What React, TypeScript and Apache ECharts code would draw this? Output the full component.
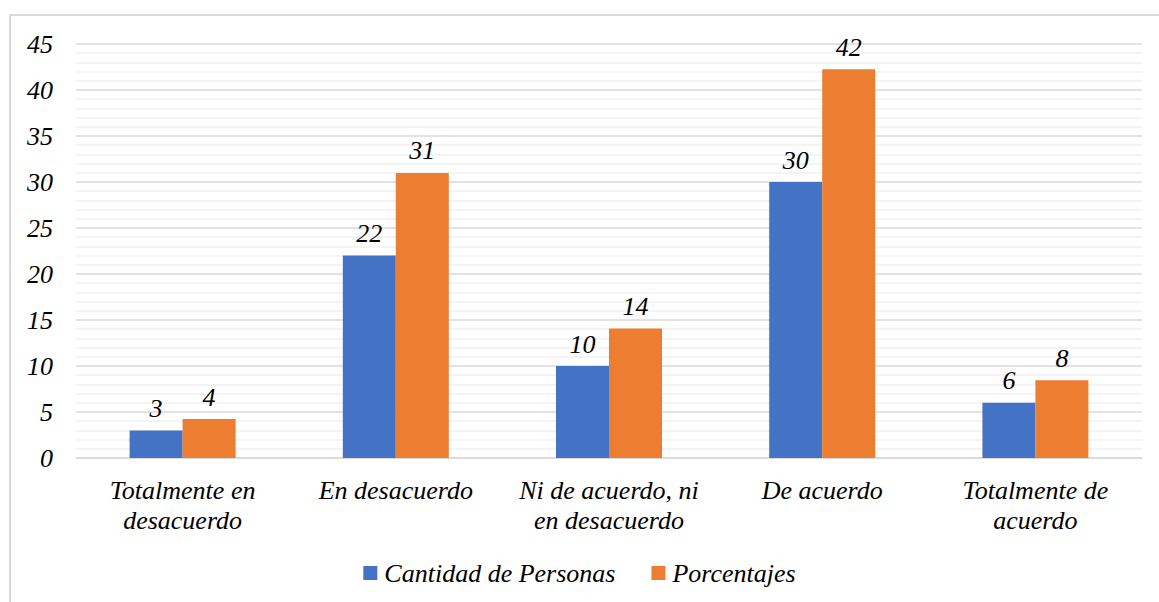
import React, { useEffect, useRef } from "react";
import * as echarts from "echarts";

const categories = [
  "Totalmente en\ndesacuerdo",
  "En desacuerdo",
  "Ni de acuerdo, ni\nen desacuerdo",
  "De acuerdo",
  "Totalmente de\nacuerdo",
];
const cantidad = [3, 22, 10, 30, 6];
const porcentajes = [4.23, 30.99, 14.08, 42.25, 8.45];
const seriesNames = ["Cantidad de Personas", "Porcentajes"];

const FONT = "Liberation Serif";

const css = `
.chart-box svg text, .chart-box svg tspan {
  font-family: "Liberation Serif", "Times New Roman", serif !important;
  font-style: italic !important;
}
`;

export default function App() {
  const ref = useRef<HTMLDivElement>(null);
  useEffect(() => {
    if (!ref.current) return;
    const chart = echarts.init(ref.current, undefined, { renderer: "svg" });
    const label = {
      show: true,
      position: "top",
      distance: 9,
      fontFamily: FONT,
      fontStyle: "italic",
      fontSize: 26,
      color: "#000",
      formatter: (p: any) => String(Math.round(p.value)),
    };
    chart.setOption({
      animation: false,
      textStyle: { fontFamily: FONT, fontStyle: "italic" },
      grid: { left: 76, right: 17, top: 44, bottom: 144 },
      legend: {
        bottom: 11,
        left: "center",
        itemWidth: 14,
        itemHeight: 14,
        itemGap: 36,
        icon: "rect",
        textStyle: {
          fontFamily: FONT,
          fontStyle: "italic",
          fontSize: 26,
          color: "#000",
          padding: [0, 0, 0, 2],
        },
        data: seriesNames,
      },
      xAxis: {
        type: "category",
        data: categories,
        axisLine: { lineStyle: { color: "#d9d9d9", width: 1.5 } },
        axisTick: { show: false },
        axisLabel: {
          fontFamily: FONT,
          fontStyle: "italic",
          fontSize: 26,
          color: "#000",
          lineHeight: 30,
          margin: 17,
          interval: 0,
        },
      },
      yAxis: {
        type: "value",
        min: 0,
        max: 45,
        interval: 5,
        axisLabel: {
          fontFamily: FONT,
          fontStyle: "italic",
          fontSize: 26,
          color: "#000",
          margin: 23,
        },
        splitLine: { lineStyle: { color: "#d9d9d9", width: 1.5 } },
        minorTick: { splitNumber: 5 },
        minorSplitLine: { show: true, lineStyle: { color: "#f0f0f0", width: 1.5 } },
      },
      series: [
        {
          name: seriesNames[0],
          type: "bar",
          data: cantidad,
          barWidth: 53,
          barGap: "0%",
          itemStyle: { color: "#4472C4" },
          label: { ...label },
        },
        {
          name: seriesNames[1],
          type: "bar",
          data: porcentajes,
          barWidth: 53,
          barGap: "0%",
          itemStyle: { color: "#ED7D31" },
          label: { ...label },
        },
      ],
    });
    return () => chart.dispose();
  }, []);
  return (
    <div
      className="chart-box"
      style={{
        position: "absolute",
        left: 0,
        top: 0,
        width: 1159,
        height: 602,
        overflow: "hidden",
        background: "#fff",
      }}
    >
      <style>{css}</style>
      <div
        style={{
          position: "absolute",
          left: 9,
          top: 14,
          width: 1300,
          height: 800,
          border: "2px solid #d9d9d9",
        }}
      />
      <div
        ref={ref}
        style={{ position: "absolute", left: 0, top: 0, width: 1159, height: 602 }}
      />
    </div>
  );
}
